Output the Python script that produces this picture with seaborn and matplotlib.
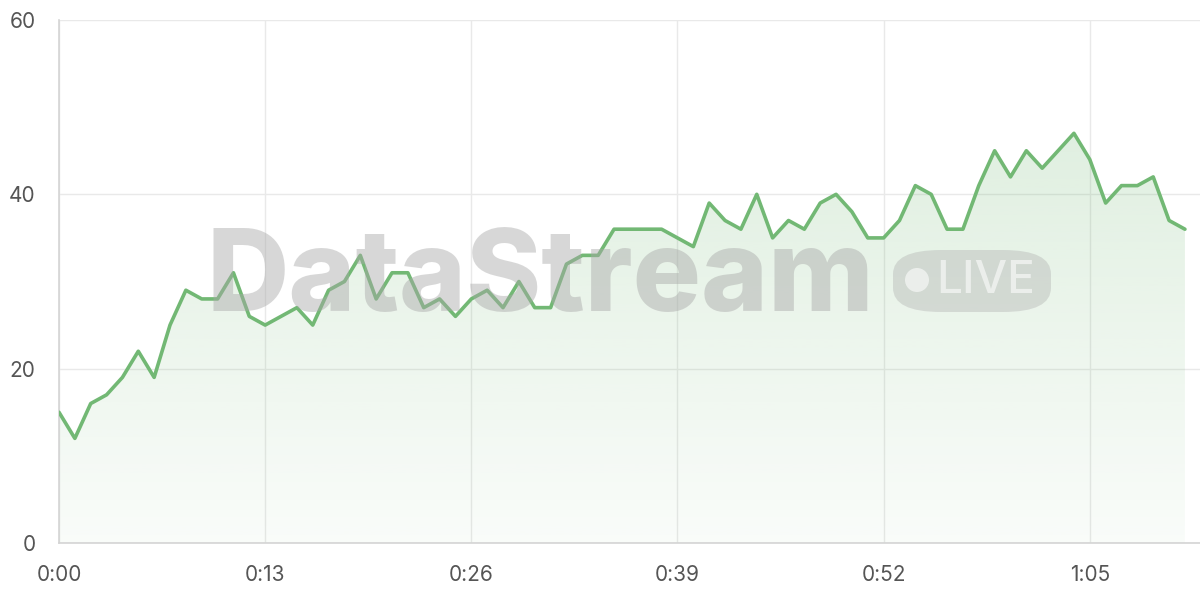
import numpy as np
import pandas as pd
import seaborn as sns
import matplotlib.pyplot as plt
from matplotlib.patches import FancyBboxPatch, Ellipse

# values per second
values = [15, 12, 16, 17, 19, 22, 19, 25, 29, 28,
          28, 31, 26, 25, 26, 27, 25, 29, 30, 33,
          28, 31, 31, 27, 28, 26, 28, 29, 27, 30,
          27, 27, 32, 33, 33, 36, 36, 36, 36, 35,
          34, 39, 37, 36, 40, 35, 37, 36, 39, 40,
          38, 35, 35, 37, 41, 40, 36, 36, 41, 45,
          42, 45, 43, 45, 47, 44, 39, 41, 41, 42,
          37, 36]
seconds = list(range(len(values)))
x_ticks = [0, 13, 26, 39, 52, 65]
x_tick_labels = ["0:00", "0:13", "0:26", "0:39", "0:52", "1:05"]
y_ticks = [0, 20, 40, 60]

df = pd.DataFrame({"t": seconds, "v": values})

sns.set_theme(style="white")
plt.rcParams["font.family"] = ["Inter", "DejaVu Sans"]

fig = plt.figure(figsize=(12, 6), dpi=100)
ax = fig.add_axes([59 / 1200, 1 - 543 / 600, 1 - 59 / 1200, (543 - 20) / 600])

line_color = "#72b874"

# gradient fill under the line
poly = ax.fill_between(df["t"], df["v"], 0, color="none")
grad = np.linspace(0.22, 0.04, 256).reshape(-1, 1)
rgba = np.zeros((256, 1, 4))
rgba[..., 0] = 0x72 / 255
rgba[..., 1] = 0xb8 / 255
rgba[..., 2] = 0x74 / 255
rgba[..., 3] = grad
img = ax.imshow(rgba, aspect="auto", extent=[0, max(seconds), 0, max(values)],
                origin="upper", zorder=1)
path = poly.get_paths()[0]
img.set_clip_path(path, transform=ax.transData)

sns.lineplot(data=df, x="t", y="v", ax=ax, color=line_color, linewidth=2.6, zorder=3)

ax.set_xlim(0, 71.95)
ax.set_ylim(0, 60)
ax.set_xticks(x_ticks)
ax.set_xticklabels(x_tick_labels)
ax.set_yticks(y_ticks)
ax.set_xlabel("")
ax.set_ylabel("")

ax.grid(True, color="#e9e9e9", linewidth=1.0, zorder=0)
ax.set_axisbelow(True)
for side in ["top", "right"]:
    ax.spines[side].set_visible(False)
for side in ["left", "bottom"]:
    ax.spines[side].set_color("#d4d4d4")
    ax.spines[side].set_linewidth(1.2)
ax.tick_params(axis="y", length=11, width=1, color="#e9e9e9", pad=6,
               labelsize=15, labelcolor="#555555")
ax.tick_params(axis="x", length=10, width=1, color="#e9e9e9", pad=6,
               labelsize=15, labelcolor="#555555")

# watermark
fig.text(540 / 1200, 1 - 281 / 600, "DataStream", ha="center", va="center",
         fontsize=82, fontweight="heavy", color="#a8a8a8", alpha=0.45, zorder=5)
badge = FancyBboxPatch((893 / 1200, 1 - 312 / 600), 158 / 1200, 62 / 600,
                       boxstyle="round,pad=0,rounding_size=0.04",
                       transform=fig.transFigure, facecolor="#a8a8a8",
                       edgecolor="none", alpha=0.35, zorder=5)
fig.patches.append(badge)
fig.patches.append(Ellipse((917 / 1200, 1 - 280 / 600), 24 / 1200, 24 / 600,
                           transform=fig.transFigure, facecolor="#f2f4f2",
                           edgecolor="none", alpha=0.8, zorder=6))
fig.text(986 / 1200, 1 - 281 / 600, "LIVE", ha="center", va="center",
         fontsize=33, fontweight="medium", color="#f2f4f2", alpha=0.8, zorder=6)

fig.savefig("out.png", dpi=100)
